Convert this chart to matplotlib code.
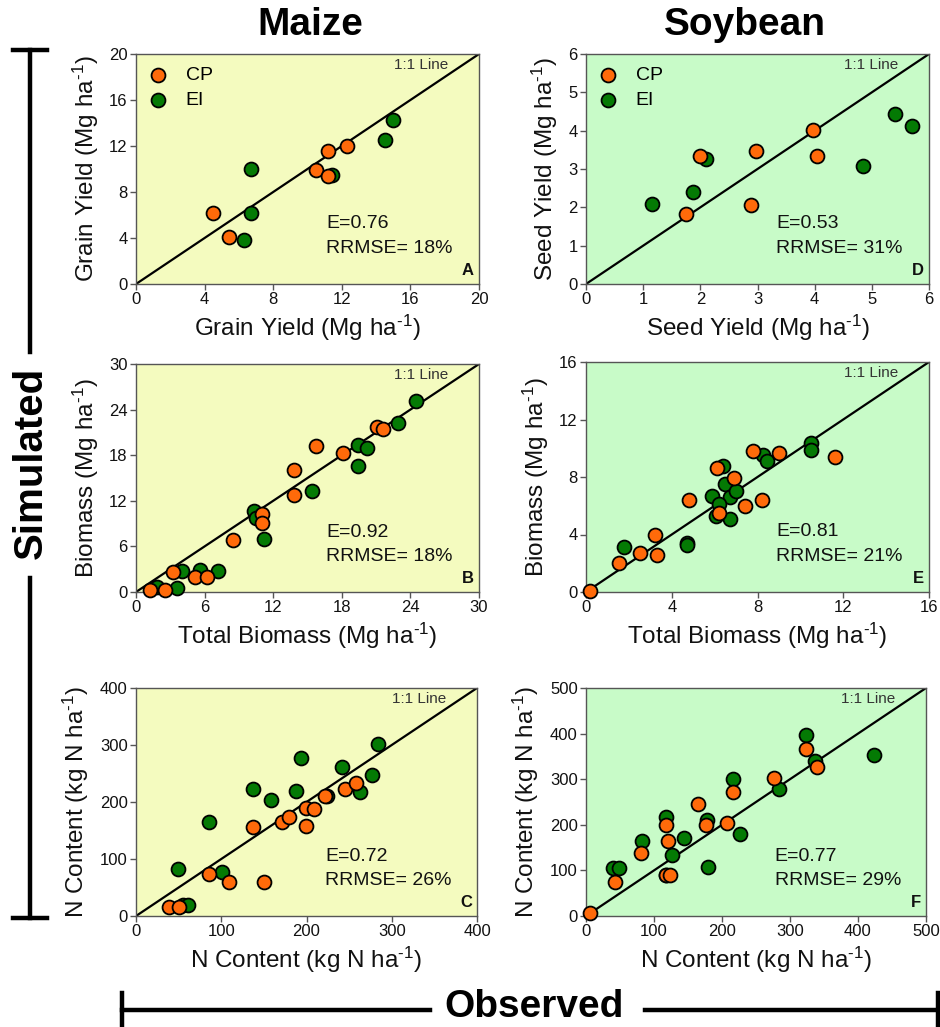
import matplotlib
matplotlib.use("Agg")
import matplotlib.pyplot as plt
from matplotlib import font_manager
from matplotlib.lines import Line2D

# ---------------- data ----------------
cp_A_obs = [4.5, 5.4, 10.5, 11.2, 11.2, 12.3]
cp_A_sim = [6.2, 4.1, 9.9, 9.4, 11.6, 12.0]
ei_A_obs = [6.7, 6.7, 6.3, 11.4, 14.5, 15.0]
ei_A_sim = [10.0, 6.2, 3.8, 9.5, 12.5, 14.3]

cp_D_obs = [1.75, 2.0, 2.98, 2.89, 3.97, 4.04]
cp_D_sim = [1.83, 3.33, 3.48, 2.06, 4.03, 3.35]
ei_D_obs = [1.15, 1.87, 2.1, 4.84, 5.4, 5.7]
ei_D_sim = [2.1, 2.4, 3.26, 3.08, 4.44, 4.12]

cp_B_obs = [1.2, 2.5, 3.2, 5.2, 6.2, 8.5, 11.0, 11.0, 13.8, 13.8, 15.7, 18.1, 21.1, 21.6]
cp_B_sim = [0.3, 0.3, 2.6, 2.0, 2.0, 6.8, 10.2, 9.1, 16.0, 12.7, 19.2, 18.3, 21.7, 21.4]
ei_B_obs = [1.8, 3.6, 4.0, 5.6, 7.2, 10.3, 10.5, 11.2, 15.4, 19.4, 19.4, 20.2, 22.9, 24.5]
ei_B_sim = [0.6, 0.5, 2.7, 2.9, 2.8, 10.7, 9.8, 7.0, 13.3, 19.4, 16.6, 18.9, 22.3, 25.1]

cp_E_obs = [0.2, 1.55, 2.5, 3.2, 3.3, 4.8, 6.1, 6.2, 6.9, 7.4, 8.2, 7.8, 9.0, 11.6]
cp_E_sim = [0.1, 2.0, 2.7, 3.95, 2.6, 6.4, 8.6, 5.5, 7.95, 6.0, 6.4, 9.8, 9.7, 9.4]
ei_E_obs = [1.75, 4.7, 4.7, 6.4, 6.5, 5.9, 6.7, 7.0, 6.2, 6.05, 6.7, 8.25, 8.45, 10.5, 10.5]
ei_E_sim = [3.1, 3.4, 3.3, 8.8, 7.5, 6.7, 6.6, 7.0, 6.1, 5.3, 5.1, 9.55, 9.1, 10.4, 9.9]

cp_C_obs = [39, 50, 86, 109, 150, 137, 171, 179, 199, 199, 209, 222, 245, 258]
cp_C_sim = [16, 15, 73, 60, 60, 157, 165, 174, 158, 190, 188, 210, 223, 234]
ei_C_obs = [55, 61, 49, 101, 86, 137, 158, 188, 193, 224, 242, 263, 277, 284]
ei_C_sim = [20, 20, 82, 78, 165, 223, 204, 219, 278, 211, 262, 217, 248, 301]

cp_F_obs = [6, 42, 81, 118, 124, 121, 118, 164, 177, 208, 216, 276, 323, 340]
cp_F_sim = [6, 74, 138, 90, 90, 165, 200, 246, 200, 205, 272, 303, 366, 326]
ei_F_obs = [40, 49, 82, 117, 118, 127, 144, 178, 180, 216, 226, 284, 323, 337, 424]
ei_F_sim = [106, 106, 165, 90, 217, 133, 171, 211, 108, 301, 180, 279, 396, 339, 352]

stats = {"A": ("E=0.76", "RRMSE= 18%"), "B": ("E=0.92", "RRMSE= 18%"),
         "C": ("E=0.72", "RRMSE= 26%"), "D": ("E=0.53", "RRMSE= 31%"),
         "E": ("E=0.81", "RRMSE= 21%"), "F": ("E=0.77", "RRMSE= 29%")}
xlabels = {"A": "Grain Yield", "B": "Total Biomass", "C": "N Content",
           "D": "Seed Yield", "E": "Total Biomass", "F": "N Content"}
ylabels = {"A": "Grain Yield", "B": "Biomass", "C": "N Content",
           "D": "Seed Yield", "E": "Biomass", "F": "N Content"}
units = {"A": "Mg", "B": "Mg", "C": "kg N", "D": "Mg", "E": "Mg", "F": "kg N"}
limits = {"A": (20, 4), "B": (30, 6), "C": (400, 100),
          "D": (6, 1), "E": (16, 4), "F": (500, 100)}

# ---------------- style ----------------
names = {f.name for f in font_manager.fontManager.ttflist}
base = "Liberation Sans" if "Liberation Sans" in names else "DejaVu Sans"
narrow = "Liberation Sans Narrow" if "Liberation Sans Narrow" in names else base
plt.rcParams["font.family"] = [base, "DejaVu Sans"]
plt.rcParams["mathtext.fontset"] = "custom"
plt.rcParams["mathtext.rm"] = base
plt.rcParams["mathtext.it"] = base
plt.rcParams["axes.unicode_minus"] = False

ORANGE = "#FF6A0A"
GREEN = "#047A04"
BG_MAIZE = "#F4FBBF"
BG_SOY = "#C8FBC8"
SPINE = "#555555"

W, H = 940, 1027
fig = plt.figure(figsize=(W / 100, H / 100), dpi=100)


def fx(px):
    return px / W


def fy(py):
    return 1 - py / H


boxes = {
    "A": (136, 54, 479, 284), "B": (136, 364, 479, 592), "C": (136, 688, 477, 916),
    "D": (586, 54, 929, 284), "E": (586, 362, 929, 592), "F": (586, 688, 926, 916),
}
data = {
    "A": (cp_A_obs, cp_A_sim, ei_A_obs, ei_A_sim),
    "B": (cp_B_obs, cp_B_sim, ei_B_obs, ei_B_sim),
    "C": (cp_C_obs, cp_C_sim, ei_C_obs, ei_C_sim),
    "D": (cp_D_obs, cp_D_sim, ei_D_obs, ei_D_sim),
    "E": (cp_E_obs, cp_E_sim, ei_E_obs, ei_E_sim),
    "F": (cp_F_obs, cp_F_sim, ei_F_obs, ei_F_sim),
}

for key, (x0, y0, x1, y1) in boxes.items():
    ax = fig.add_axes([fx(x0), fy(y1), fx(x1) - fx(x0), fy(y0) - fy(y1)])
    ax.set_facecolor(BG_MAIZE if key in "ABC" else BG_SOY)
    mx, step = limits[key]
    ax.plot([0, mx], [0, mx], color="black", lw=1.6, zorder=2)
    cpo, cps, eio, eis = data[key]
    h_ei = ax.scatter(eio, eis, s=100, color=GREEN, edgecolor="black",
                      linewidth=1.3, zorder=3, label="EI", clip_on=False)
    h_cp = ax.scatter(cpo, cps, s=100, color=ORANGE, edgecolor="black",
                      linewidth=1.3, zorder=4, label="CP", clip_on=False)
    ax.set_xlim(0, mx)
    ax.set_ylim(0, mx)
    ticks = list(range(0, mx + 1, step))
    ax.set_xticks(ticks)
    ax.set_yticks(ticks)
    for s in ax.spines.values():
        s.set_color(SPINE)
        s.set_linewidth(1.0)
    ax.tick_params(direction="out", length=4, width=1, color=SPINE,
                   labelsize=12, pad=2, labelcolor="#111111")
    unit = r"(%s ha$^{\text{-1}}$)" % units[key]
    ax.set_xlabel(xlabels[key] + " " + unit, fontsize=17.5, labelpad=4, color="#111111")
    ax.set_ylabel(ylabels[key] + " " + unit, fontsize=17.5, labelpad=6, color="#111111")
    e_txt, r_txt = stats[key]
    ax.text(0.555, 0.263, e_txt, transform=ax.transAxes, fontsize=14,
            ha="left", va="center", color="#111111")
    ax.text(0.555, 0.156, r_txt, transform=ax.transAxes, fontsize=14,
            ha="left", va="center", color="#111111")
    ax.text(0.985, 0.025, key, transform=ax.transAxes, fontsize=12,
            fontweight="bold", ha="right", va="bottom", color="#111111")
    ax.text(0.91, 0.952, "1:1 Line", transform=ax.transAxes, fontsize=11,
            ha="right", va="center", color="#333333")
    if key in ("A", "D"):
        ax.legend(handles=[h_cp, h_ei], loc="upper left", frameon=False,
                  fontsize=14, handlelength=1.0, handletextpad=0.9,
                  labelspacing=0.35, borderaxespad=0.25, borderpad=0.4)

# titles
fig.text(fx(310), fy(25), "Maize", family=[narrow, base], fontsize=28,
         fontweight="bold", ha="center", va="center")
fig.text(fx(745), fy(25), "Soybean", family=[narrow, base], fontsize=28,
         fontweight="bold", ha="center", va="center")

# Simulated bracket
LW = 3.2
fig.add_artist(Line2D([fx(30), fx(30)], [fy(50), fy(352)], color="black", lw=LW))
fig.add_artist(Line2D([fx(30), fx(30)], [fy(578), fy(918)], color="black", lw=LW))
fig.add_artist(Line2D([fx(13), fx(47)], [fy(50), fy(50)], color="black", lw=LW))
fig.add_artist(Line2D([fx(13), fx(47)], [fy(918), fy(918)], color="black", lw=LW))
fig.text(fx(31), fy(463), "Simulated", family=[narrow, base], fontsize=29,
         fontweight="bold", rotation=90, ha="center", va="center")

# Observed bracket
fig.add_artist(Line2D([fx(122), fx(430)], [fy(1010), fy(1010)], color="black", lw=LW))
fig.add_artist(Line2D([fx(645), fx(938)], [fy(1010), fy(1010)], color="black", lw=LW))
fig.add_artist(Line2D([fx(122), fx(122)], [fy(993), fy(1027)], color="black", lw=LW))
fig.add_artist(Line2D([fx(938), fx(938)], [fy(993), fy(1027)], color="black", lw=LW))
fig.text(fx(534), fy(1007), "Observed", family=[narrow, base], fontsize=28,
         fontweight="bold", ha="center", va="center")

fig.savefig("out.png", dpi=100)
